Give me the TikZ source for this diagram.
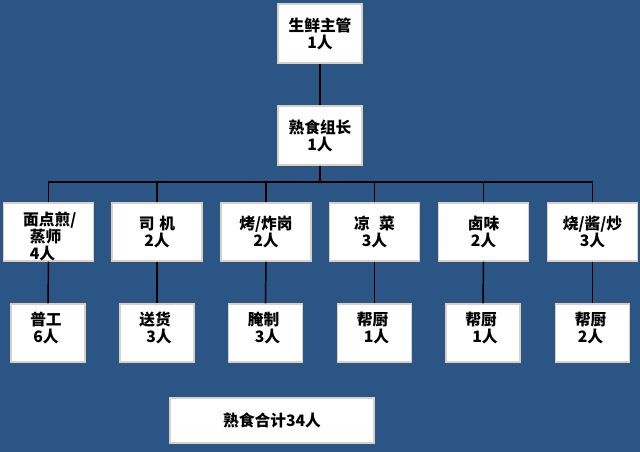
\documentclass[tikz,border=0pt]{standalone}
\usepackage{fontspec}
\newfontfamily\cjk{Noto Sans CJK SC}
\definecolor{bg}{RGB}{42,85,132}
\definecolor{edge}{RGB}{215,208,195}
\begin{document}
\begin{tikzpicture}[x=0.75pt,y=-0.75pt,
  box/.style={draw=edge,line width=0.8pt,fill=white,rectangle,inner sep=0pt},
  bigbox/.style={box,minimum width=67.5pt,minimum height=43.5pt},
  smallbox/.style={box,minimum width=55.5pt,minimum height=43.5pt},
  txt/.style={font=\cjk\bfseries\fontsize{11.8}{12.75}\selectfont,align=center,inner sep=0pt},
  conn/.style={line width=1.1pt,black}]
\fill[bg] (0,0) rectangle (640,452);
\useasboundingbox (0,0) rectangle (640,452);
% boxes
\node[box,minimum width=63pt,minimum height=44.25pt] (top) at (320,33.5) {};
\node[box,minimum width=63pt,minimum height=44.25pt] (mid) at (320,135.5) {};
\node[bigbox] (a1) at (48.5,232) {};
\node[bigbox] (a2) at (157,232) {};
\node[bigbox] (a3) at (266,232) {};
\node[bigbox] (a4) at (374.5,232) {};
\node[bigbox] (a5) at (483.5,232) {};
\node[bigbox] (a6) at (592.5,232) {};
\node[smallbox] (b1) at (48,333) {};
\node[smallbox] (b2) at (157,333) {};
\node[smallbox] (b3) at (265.5,333) {};
\node[smallbox] (b4) at (374.5,333) {};
\node[smallbox] (b5) at (483,333) {};
\node[smallbox] (b6) at (592.5,333) {};
\node[box,minimum width=153pt,minimum height=33.75pt] (total) at (272,420.5) {};
% texts
\node[txt] (topt) at (top) {生鲜主管\\1人};
\node[txt] (midt) at (mid) {熟食组长\\1人};
\node[txt,align=left] (a1t) at ([xshift=1pt,yshift=-3.5pt]a1) {面点煎/\\\hspace*{5pt}蒸师\\\hspace*{5pt}4人};
\node[txt] (a2t) at (a2) {司\hspace{0.3em}机\\2人};
\node[txt] (a3t) at (a3) {烤/炸岗\\2人};
\node[txt] (a4t) at (a4) {凉\hspace{0.6em}菜\\3人};
\node[txt] (a5t) at (a5) {卤味\\2人};
\node[txt] (a6t) at (a6) {烧/酱/炒\\3人};
\node[txt] (b1t) at ([xshift=-1.5pt,yshift=3.75pt]b1) {普工\\6人};
\node[txt] (b2t) at ([xshift=-1.5pt,yshift=3.75pt]b2) {送货\\\hspace*{6pt}3人};
\node[txt] (b3t) at ([xshift=-1.5pt,yshift=3.75pt]b3) {腌制\\\hspace*{6pt}3人};
\node[txt] (b4t) at ([xshift=-1.5pt,yshift=3.75pt]b4) {帮厨\\\hspace*{6pt}1人};
\node[txt] (b5t) at ([xshift=-1.5pt,yshift=3.75pt]b5) {帮厨\\\hspace*{6pt}1人};
\node[txt] (b6t) at ([xshift=-1.5pt,yshift=3.75pt]b6) {帮厨\\2人};
\node[txt] (totalt) at (total) {熟食合计34人};
% connectors
\coordinate (j) at (320,182);
\draw[conn] (top) -- (mid);
\draw[conn] (mid) -- (j);
\draw[conn] (a1.north) |- (j) -| (a6.north);
\foreach \i in {2,3,4,5}{\draw[conn] (a\i.north) -- (a\i.north |- j);}
\foreach \i in {1,...,6}{\draw[conn] (a\i.south) -- (b\i.north);}
\end{tikzpicture}
\end{document}
